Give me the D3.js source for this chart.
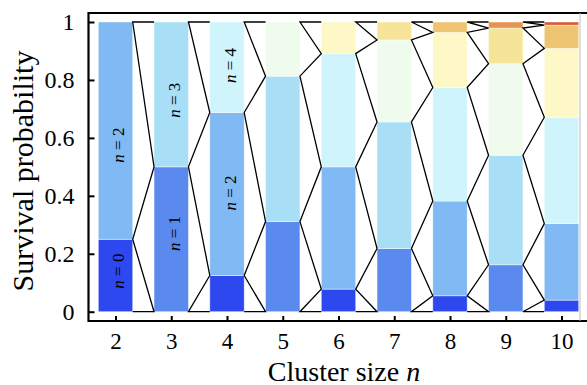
<!DOCTYPE html>
<html><head><meta charset="utf-8">
<script src="https://cdn.jsdelivr.net/npm/d3@7"></script>
<style>
html,body{margin:0;padding:0;background:#fff;}
svg{display:block;font-family:"Liberation Serif","Times New Roman",serif;}
</style></head>
<body><svg id="c" width="587" height="385"></svg>
<script>
// ---- data ----
const clusterSizes = [2, 3, 4, 5, 6, 7, 8, 9, 10];
// survival probabilities for surviving counts k = n%2, n%2+2, ..., n
const p2  = [0.25, 0.75];
const p3  = [0.5, 0.5];
const p4  = [0.125, 0.5625, 0.3125];
const p5  = [0.311, 0.502, 0.187];
const p6  = [0.078, 0.422, 0.391, 0.109];
const p7  = [0.218, 0.437, 0.283, 0.062];
const p8  = [0.055, 0.327, 0.392, 0.190, 0.036];
const p9  = [0.162, 0.378, 0.316, 0.123, 0.021];
const p10 = [0.040, 0.264, 0.367, 0.238, 0.080, 0.011];
const probs = [p2, p3, p4, p5, p6, p7, p8, p9, p10];
const kColors = ["#2c48ee","#5a8aee","#80b9f4","#a8def6","#cff4fb","#effced",
                 "#fef8c6","#f6e598","#edc472","#e59450","#d85c33"];
const yTicks = [0, 0.2, 0.4, 0.6, 0.8, 1];
const yTickLabels = ["0", "0.2", "0.4", "0.6", "0.8", "1"];
const segLabels = [
  {size: 2, k: 0, at: 0.14}, {size: 2, k: 2, at: 0.575},
  {size: 3, k: 1, at: 0.27}, {size: 3, k: 3, at: 0.73},
  {size: 4, k: 2, at: 0.41}, {size: 4, k: 4, at: 0.85}
];

// ---- layout ----
const svg = d3.select("#c");
const x = d3.scaleLinear().domain([2, 10]).range([115.5, 561.5]);
const y = d3.scaleLinear().domain([0, 1]).range([311.7, 22]);
const bw = 34.4;
const frame = {l: 88.5, t: 13, b: 321, r: 580};

// build stacked segments
const bars = clusterSizes.map((n, i) => {
  let cum = 0;
  const segs = probs[i].map((p, j) => {
    const k = (n % 2) + 2 * j;
    const s = {n, k, y0: cum, y1: cum + p};
    cum += p;
    return s;
  });
  return {n, segs};
});

// segments
const g = svg.append("g");
bars.forEach(b => {
  g.selectAll(null).data(b.segs).enter().append("rect")
    .attr("x", d => x(d.n) - bw / 2)
    .attr("width", bw)
    .attr("y", d => y(d.y1))
    .attr("height", d => y(d.y0) - y(d.y1))
    .attr("fill", d => kColors[d.k])
    .attr("stroke", "rgba(255,255,255,0.55)")
    .attr("stroke-width", 0.8);
});

// connectors: zig-zag through boundaries of neighbouring bars ordered by count
const line = d3.line().x(d => d[0]).y(d => d[1]);
for (let i = 0; i < bars.length - 1; i++) {
  const A = bars[i], B = bars[i + 1];
  const pts = [];
  const add = (bar, xEdge) => {
    bar.segs.forEach(s => pts.push({key: s.k, v: s.y0, xe: xEdge}));
    pts.push({key: bar.n + 2, v: 1, xe: xEdge});
  };
  add(A, x(A.n) + bw / 2);
  add(B, x(B.n) - bw / 2);
  pts.sort((a, b) => a.key - b.key);
  svg.append("path")
    .attr("d", line(pts.map(p => [p.xe, y(p.v)])))
    .attr("fill", "none")
    .attr("stroke", "#000")
    .attr("stroke-width", 1.3)
    .attr("stroke-linejoin", "miter");
}

// segment labels
segLabels.forEach(l => {
  const t = svg.append("text")
    .attr("transform", `translate(${x(l.size) + 2.5},${y(l.at)}) rotate(-90)`)
    .attr("text-anchor", "middle")
    .attr("dominant-baseline", "central")
    .attr("font-size", 17);
  t.append("tspan").attr("font-style", "italic").text("n");
  t.append("tspan").text(" = " + l.k);
});

// frame
svg.append("line").attr("x1", frame.l).attr("x2", 587).attr("y1", frame.t).attr("y2", frame.t)
  .attr("stroke", "#000").attr("stroke-width", 2.2);
svg.append("line").attr("x1", frame.l).attr("x2", 587).attr("y1", frame.b).attr("y2", frame.b)
  .attr("stroke", "#000").attr("stroke-width", 2.2);
svg.append("line").attr("x1", frame.l).attr("x2", frame.l).attr("y1", frame.t - 1.1).attr("y2", frame.b + 1.1)
  .attr("stroke", "#000").attr("stroke-width", 2.2);
svg.append("line").attr("x1", frame.r).attr("x2", frame.r).attr("y1", frame.t).attr("y2", frame.b)
  .attr("stroke", "#bbb").attr("stroke-width", 1);

// y axis
const yAxis = d3.axisLeft(y).tickValues(yTicks).tickSizeInner(-6).tickSizeOuter(0)
  .tickFormat((d, i) => yTickLabels[i]).tickPadding(14);
const ya = svg.append("g").attr("transform", `translate(${frame.l},0)`).call(yAxis);
ya.select(".domain").remove();
ya.selectAll(".tick line").attr("stroke", "#000").attr("stroke-width", 2);
ya.selectAll(".tick text").attr("font-size", 24).attr("fill", "#000")
  .attr("font-family", "Liberation Serif, serif");

// x axis
const xAxis = d3.axisBottom(x).tickValues(clusterSizes).tickSizeInner(-5).tickSizeOuter(0)
  .tickFormat(d3.format("d")).tickPadding(12);
const xa = svg.append("g").attr("transform", `translate(0,${frame.b})`).call(xAxis);
xa.select(".domain").remove();
xa.selectAll(".tick line").attr("stroke", "#000").attr("stroke-width", 2);
xa.selectAll(".tick text").attr("font-size", 23).attr("fill", "#000")
  .attr("font-family", "Liberation Serif, serif");

// axis titles
const xt = svg.append("text").attr("x", 344).attr("y", 380.5).attr("text-anchor", "middle")
  .attr("font-size", 28);
xt.append("tspan").text("Cluster size ");
xt.append("tspan").attr("font-style", "italic").text("n");
svg.append("text").attr("transform", "translate(32.5,171) rotate(-90)")
  .attr("text-anchor", "middle").attr("font-size", 30).text("Survival probability");
</script></body></html>
